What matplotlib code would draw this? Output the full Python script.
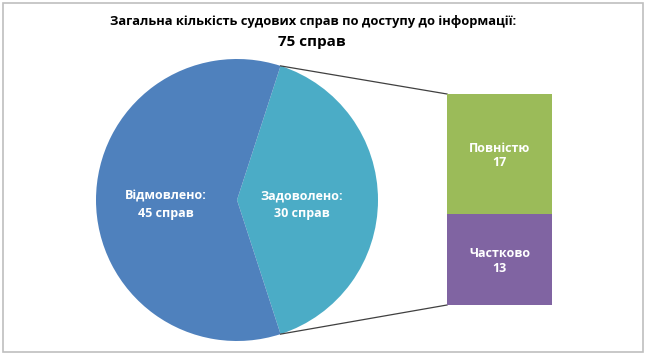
import matplotlib
matplotlib.use('agg')
import matplotlib.pyplot as plt
import numpy as np

# data
pie_labels = ['Задоволено', 'Відмовлено']
pie_values = [30, 45]
pie_colors = ['#4BACC6', '#4F81BD']
bar_labels = ['Частково', 'Повністю']
bar_values = [13, 17]
bar_colors = ['#8064A2', '#9BBB59']
title = 'Загальна кількість судових справ по доступу до інформації:'
total = sum(pie_values)

plt.rcParams['font.family'] = ['Open Sans', 'DejaVu Sans']

W, H = 645, 354
fig = plt.figure(figsize=(W / 100, H / 100), dpi=100)
ax = fig.add_axes([0, 0, 1, 1])

# outer border
fig.patches.append(plt.Rectangle((2.5 / W, 2.5 / H), 1 - 5 / W, 1 - 5 / H,
                                 transform=fig.transFigure, fill=False,
                                 edgecolor='#BFBFBF', linewidth=1.2))

# pie (teal slice centred on the right)
cx, cy, r = 237, H - 200, 141
teal_angle = 360 * pie_values[0] / total
ax.pie(pie_values, colors=pie_colors, startangle=-teal_angle / 2,
       center=(cx, cy), radius=r, frame=True,
       wedgeprops=dict(linewidth=0))
ax.set_xlim(0, W)
ax.set_ylim(0, H)
ax.set_aspect('equal')
ax.axis('off')

lab_kw = dict(color='white', fontsize=9, fontweight='bold', ha='center',
              va='center')
ax.text(cx - 71, cy - 4.5, f'{pie_labels[1]}:\n{pie_values[1]} справ',
        linespacing=1.45, **lab_kw)
ax.text(cx + 65, cy - 4.5, f'{pie_labels[0]}:\n{pie_values[0]} справ',
        linespacing=1.45, **lab_kw)

# stacked bar for the "Задоволено" split
bx0, bx1, by0, by1 = 447, 552, H - 305, H - 94
bax = fig.add_axes([bx0 / W, by0 / H, (bx1 - bx0) / W, (by1 - by0) / H])
bax.set_xlim(0, 1)
bax.set_ylim(0, sum(bar_values))
bax.axis('off')
bottom = 0
for lab, v, c in zip(bar_labels, bar_values, bar_colors):
    bax.bar(0.5, v, width=1, bottom=bottom, color=c, linewidth=0)
    bax.text(0.5, bottom + v / 2 - 0.25, f'{lab}\n{v}', linespacing=1.15, **lab_kw)
    bottom += v

# connector lines from pie edge to bar corners
a = np.deg2rad(teal_angle / 2)
ax.plot([cx + r * np.cos(a), bx0], [cy + r * np.sin(a), by1], color='#404040', lw=0.9)
ax.plot([cx + r * np.cos(a), bx0], [cy - r * np.sin(a), by0], color='#404040', lw=0.9)

fig.text(313.5 / W, 1 - 22 / H, title, ha='center', va='center', fontsize=9.3,
         fontweight='bold')
fig.text(312 / W, 1 - 42 / H, f'{total} справ', ha='center', va='center',
         fontsize=11, fontweight='bold')

fig.savefig('out.png', dpi=100)
